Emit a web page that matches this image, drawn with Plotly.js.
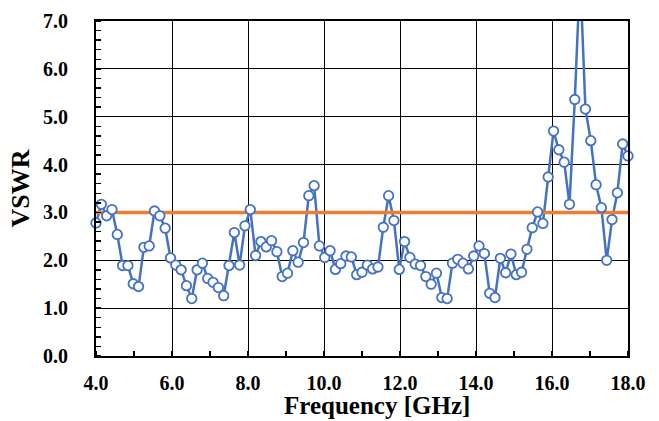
<!DOCTYPE html>
<html>
<head>
<meta charset="utf-8">
<script src="https://cdn.plot.ly/plotly-3.0.1.min.js"></script>
<style>html,body{margin:0;padding:0;background:#fff;}#chart{width:659px;height:421px;}</style>
</head>
<body>
<div id="chart"></div>
<script>
const frequency = [4.00,4.14,4.28,4.42,4.56,4.70,4.84,4.98,5.12,5.26,5.40,5.54,5.68,5.82,5.96,6.10,6.24,6.38,6.52,6.66,6.80,6.94,7.08,7.22,7.36,7.50,7.64,7.78,7.92,8.06,8.20,8.34,8.48,8.62,8.76,8.90,9.04,9.18,9.32,9.46,9.60,9.74,9.88,10.02,10.16,10.30,10.44,10.58,10.72,10.86,11.00,11.14,11.28,11.42,11.56,11.70,11.84,11.98,12.12,12.26,12.40,12.54,12.68,12.82,12.96,13.10,13.24,13.38,13.52,13.66,13.80,13.94,14.08,14.22,14.36,14.50,14.64,14.78,14.92,15.06,15.20,15.34,15.48,15.62,15.76,15.90,16.04,16.18,16.32,16.46,16.60,16.74,16.88,17.02,17.16,17.30,17.44,17.58,17.72,17.86,18.00];
const vswr = [2.78,3.17,2.93,3.06,2.54,1.89,1.89,1.51,1.45,2.27,2.30,3.03,2.93,2.67,2.05,1.90,1.80,1.47,1.20,1.80,1.94,1.62,1.54,1.43,1.26,1.89,2.58,1.90,2.72,3.06,2.10,2.39,2.28,2.41,2.18,1.66,1.73,2.20,1.96,2.37,3.35,3.56,2.30,2.06,2.20,1.81,1.93,2.09,2.07,1.70,1.75,1.90,1.82,1.86,2.69,3.35,2.83,1.81,2.39,2.06,1.92,1.89,1.66,1.50,1.73,1.22,1.20,1.94,2.02,1.94,1.82,2.09,2.30,2.14,1.31,1.22,2.04,1.74,2.13,1.70,1.75,2.23,2.68,3.01,2.77,3.74,4.70,4.31,4.05,3.17,5.36,8.00,5.16,4.50,3.58,3.10,2.00,2.85,3.41,4.43,4.18];
const limitX = [4.0, 18.0];
const limitY = [3.0, 3.0];
const xTickVals = [4,6,8,10,12,14,16,18];
const yTickVals = [0,1,2,3,4,5,6,7];
const yMax = 7;
const xTitle = 'Frequency [GHz]';
const yTitle = 'VSWR';

const blue = '#4472C4';
const orange = '#ED7D31';
const fontFam = 'Times New Roman';

const traces = [
  {x: frequency, y: vswr, type: 'scatter', mode: 'lines',
   line: {color: blue, width: 2.5}, cliponaxis: true, hoverinfo: 'skip', showlegend: false},
  {x: limitX, y: limitY, type: 'scatter', mode: 'lines',
   line: {color: orange, width: 3.5}, cliponaxis: true, showlegend: false},
  {x: frequency, y: vswr, type: 'scatter', mode: 'markers',
   marker: {color: '#ffffff', opacity: 1, size: vswr.map(v => v > yMax ? 0 : 9.5), line: {color: blue, width: 1.8}},
   cliponaxis: false, showlegend: false}
];

const layout = {
  width: 659, height: 421,
  margin: {l: 96, r: 31, t: 21, b: 65},
  paper_bgcolor: '#fff', plot_bgcolor: '#fff',
  font: {family: fontFam, color: '#000'},
  showlegend: false,
  xaxis: {
    range: [4, 18], tickvals: xTickVals, tickformat: '.1f',
    ticks: '', showgrid: true, gridcolor: '#000', gridwidth: 1,
    showline: true, linecolor: '#000', linewidth: 2, mirror: true,
    zeroline: false,
    tickfont: {family: fontFam, size: 20, color: '#000', weight: 'bold'},
    ticklabelstandoff: 8,
    minor: {ticks: 'inside', ticklen: 5, tickcolor: '#000', tickwidth: 1.5, dtick: 1, tick0: 5, showgrid: false},
    automargin: false, fixedrange: true
  },
  yaxis: {
    range: [0, yMax], tickvals: yTickVals, tickformat: '.1f',
    ticks: '', showgrid: true, gridcolor: '#000', gridwidth: 1,
    showline: true, linecolor: '#000', linewidth: 2, mirror: true,
    zeroline: false,
    tickfont: {family: fontFam, size: 20, color: '#000', weight: 'bold'},
    ticklabelstandoff: 22,
    minor: {ticks: 'inside', ticklen: 5, tickcolor: '#000', tickwidth: 1.5, dtick: 0.2, showgrid: false},
    title: {text: yTitle, font: {family: fontFam, size: 26, color: '#000', weight: 'bold'}, standoff: 6},
    automargin: false, fixedrange: true
  },
  annotations: [{
    text: xTitle, xref: 'paper', yref: 'paper', x: 0.528, y: -0.148,
    xanchor: 'center', yanchor: 'middle', showarrow: false,
    font: {family: fontFam, size: 25, color: '#000', weight: 'bold'}
  }]
};

Plotly.newPlot('chart', traces, layout, {displayModeBar: false, staticPlot: true});
</script>
</body>
</html>
